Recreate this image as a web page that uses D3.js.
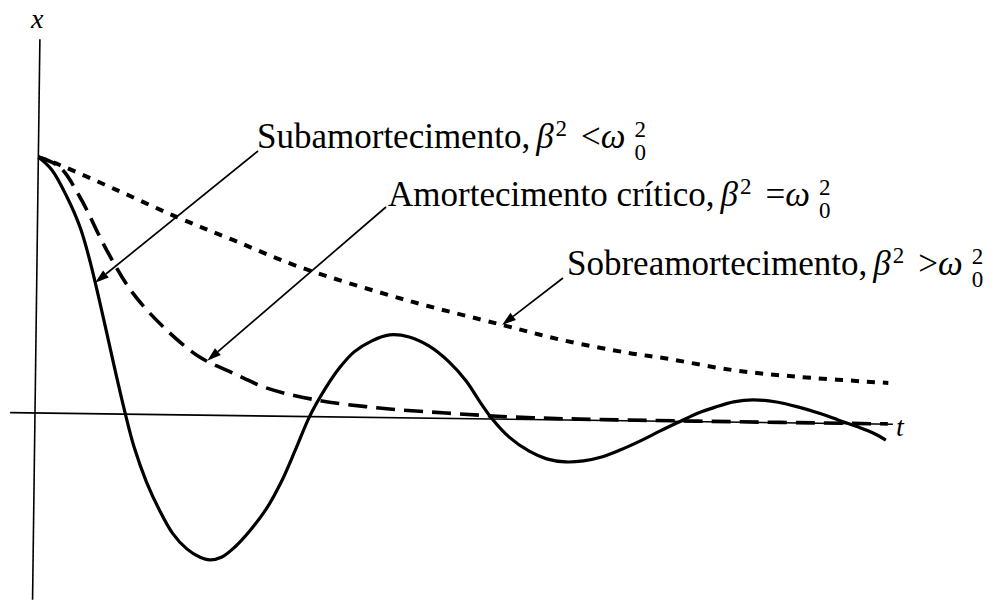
<!DOCTYPE html>
<html>
<head>
<meta charset="utf-8">
<script src="https://cdn.jsdelivr.net/npm/d3@7"></script>
<style>
  body { margin: 0; background: #fff; }
  svg { display: block; }
</style>
</head>
<body>
<script>
// values: t along the axis, x = displacement (x0 = 1)
var tSolid = [0, 0.16, 0.34, 0.50, 0.62, 0.83, 0.94, 1.05, 1.16, 1.31, 1.47, 1.62, 1.79, 1.94, 2.06, 2.20, 2.35, 2.52, 2.71, 2.88, 3.04, 3.20, 3.37, 3.54, 3.71, 3.91, 4.12, 4.35, 4.58, 4.82, 5.02, 5.17, 5.33, 5.53, 5.76, 5.97, 6.19, 6.40, 6.61, 6.83, 7.06, 7.29, 7.52, 7.73, 7.93, 8.14, 8.37, 8.64, 8.90, 9.13, 9.36, 9.59, 9.77, 9.92];
var xSolid = [1.00, 0.950, 0.845, 0.725, 0.593, 0.308, 0.153, 0.005, -0.128, -0.264, -0.376, -0.462, -0.523, -0.554, -0.565, -0.553, -0.513, -0.450, -0.363, -0.257, -0.131, 0, 0.105, 0.191, 0.255, 0.298, 0.323, 0.316, 0.282, 0.220, 0.147, 0.073, 0, -0.070, -0.123, -0.153, -0.164, -0.159, -0.143, -0.114, -0.078, -0.038, 0, 0.034, 0.058, 0.079, 0.088, 0.081, 0.062, 0.040, 0.014, -0.012, -0.035, -0.062];

var tCritical = [0, 0.25, 0.49, 0.81, 1.12, 1.52, 1.91, 2.30, 2.70, 3.28, 4.01, 4.79, 5.56, 6.34, 7.73, 9.94];
var xCritical = [1, 0.962, 0.846, 0.640, 0.474, 0.331, 0.227, 0.166, 0.109, 0.065, 0.037, 0.021, 0.009, 0.004, 0.002, 0.001];

var tOver = [0, 0.25, 0.92, 1.62, 2.28, 3.06, 4.31, 5.43, 6.13, 6.91, 7.35, 8.11, 8.90, 9.94];
var xOver = [1, 0.970, 0.875, 0.773, 0.686, 0.584, 0.46, 0.368, 0.312, 0.265, 0.245, 0.204, 0.180, 0.161];

var tAxisExtent = [-0.29, 10];
var xAxisExtent = [-0.73, 1.46];

var labelTexts = ["Subamortecimento,", "Amortecimento crítico,", "Sobreamortecimento,"];
var labelRelations = ["<", "=", ">"];
var arrowTargetT = [0.68, 2.0, 5.43];

var width = 994, height = 601;
var ox = 35, oy = 413, tilt = 0.75; // the scan is slightly rotated
var serif = "'Liberation Serif', 'Times New Roman', serif";

var svg = d3.select("body").append("svg")
  .attr("width", width)
  .attr("height", height);

var tScale = d3.scaleLinear().domain([0, 10]).range([0, 858]);
var xScale = d3.scaleLinear().domain([0, 1]).range([0, -256]);

var plot = svg.append("g")
  .attr("transform", "translate(" + ox + "," + oy + ") rotate(" + tilt + ")");

// axes
plot.append("line")
  .attr("x1", tScale(tAxisExtent[0])).attr("x2", tScale(tAxisExtent[1]))
  .attr("y1", xScale(0)).attr("y2", xScale(0))
  .attr("stroke", "#000").attr("stroke-width", 1.6);
plot.append("line")
  .attr("x1", tScale(0)).attr("x2", tScale(0))
  .attr("y1", xScale(xAxisExtent[0])).attr("y2", xScale(xAxisExtent[1]))
  .attr("stroke", "#000").attr("stroke-width", 1.6);

var line = d3.line()
  .x(function (d) { return tScale(d[0]); })
  .y(function (d) { return xScale(d[1]); })
  .curve(d3.curveCatmullRom.alpha(0.5));

function pairs(ts, xs) {
  return ts.map(function (t, i) { return [t, xs[i]]; });
}

var series = [
  { data: pairs(tOver, xOver), dash: "8,8", width: 4 },
  { data: pairs(tCritical, xCritical), dash: "19,9", width: 3.6 },
  { data: pairs(tSolid, xSolid), dash: null, width: 3.2 }
];

plot.selectAll("path.curve")
  .data(series)
  .enter().append("path")
  .attr("class", "curve")
  .attr("d", function (d) { return line(d.data); })
  .attr("fill", "none")
  .attr("stroke", "#000")
  .attr("stroke-width", function (d) { return d.width; })
  .attr("stroke-dasharray", function (d) { return d.dash; });

// axis labels
svg.append("text")
  .attr("x", 31).attr("y", 28)
  .attr("font-family", serif).attr("font-style", "italic").attr("font-size", 28)
  .text("x");
svg.append("text")
  .attr("x", 896).attr("y", 436)
  .attr("font-family", serif).attr("font-style", "italic").attr("font-size", 28)
  .text("t");

// screen position of a point on a curve
function project(t, v) {
  var a = tilt * Math.PI / 180;
  var dx = tScale(t), dy = xScale(v);
  return [ox + dx * Math.cos(a) - dy * Math.sin(a), oy + dx * Math.sin(a) + dy * Math.cos(a)];
}

function valueAt(ts, xs, t) {
  for (var i = 1; i < ts.length; i++) {
    if (t <= ts[i]) {
      var f = (t - ts[i - 1]) / (ts[i] - ts[i - 1]);
      return xs[i - 1] + f * (xs[i] - xs[i - 1]);
    }
  }
  return xs[xs.length - 1];
}

var labelPos = [[257, 148], [388, 206], [567, 275]];
var arrowStart = [[258, 151], [386, 207], [563, 278]];
var targets = [[tSolid, xSolid], [tCritical, xCritical], [tOver, xOver]];

labelTexts.forEach(function (txt, i) {
  var p = labelPos[i];
  var text = svg.append("text")
    .attr("x", p[0]).attr("y", p[1])
    .attr("font-family", serif).attr("font-size", 35);
  text.append("tspan").text(txt);
  text.append("tspan").attr("dx", 6).attr("font-style", "italic").text("β");
  text.append("tspan").attr("font-size", 23).attr("dy", -12).attr("dx", 2).text("2");
  text.append("tspan").attr("dy", 12).attr("dx", 14).text(labelRelations[i]);
  text.append("tspan").attr("font-style", "italic").text("ω");

  var bb = text.node().getBBox();
  var sx = bb.x + bb.width + 9;
  svg.append("text").attr("x", sx).attr("y", p[1] - 11)
    .attr("font-family", serif).attr("font-size", 23).text("2");
  svg.append("text").attr("x", sx).attr("y", p[1] + 12)
    .attr("font-family", serif).attr("font-size", 23).text("0");

  // arrow to the curve
  var tgt = targets[i];
  var tip = project(arrowTargetT[i], valueAt(tgt[0], tgt[1], arrowTargetT[i]));
  var s = arrowStart[i];
  var ang = Math.atan2(tip[1] - s[1], tip[0] - s[0]);
  var len = 14, half = 4.5;
  var bx = tip[0] - len * Math.cos(ang), by = tip[1] - len * Math.sin(ang);
  svg.append("line")
    .attr("x1", s[0]).attr("y1", s[1]).attr("x2", bx).attr("y2", by)
    .attr("stroke", "#000").attr("stroke-width", 1.7);
  svg.append("path")
    .attr("d", "M" + tip[0] + "," + tip[1] +
      "L" + (bx + half * Math.sin(ang)) + "," + (by - half * Math.cos(ang)) +
      "L" + (bx - half * Math.sin(ang)) + "," + (by + half * Math.cos(ang)) + "Z")
    .attr("fill", "#000");
});
</script>
</body>
</html>
